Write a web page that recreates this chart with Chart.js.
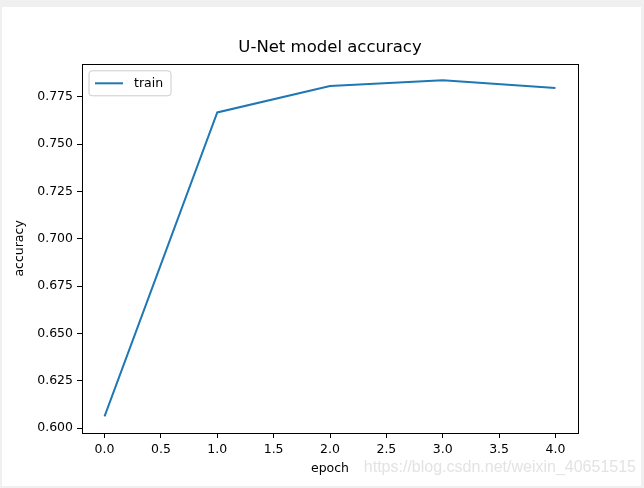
<!DOCTYPE html>
<html lang="en">
<head>
    <meta charset="UTF-8">
    <title>U-Net model accuracy</title>
    <script src="https://cdn.jsdelivr.net/npm/chart.js"></script>
    <style>
        body {
            margin: 0;
            background: #f0f0f0;
            width: 644px;
            height: 488px;
            overflow: hidden;
            position: relative;
        }

        #sheet {
            position: absolute;
            left: 2px;
            top: 7px;
            width: 639px;
            height: 479px;
            background: #ffffff;
        }

        #chart {
            position: absolute;
            left: 0;
            top: 0;
        }

        #mark {
            position: absolute;
            right: 8px;
            top: 458px;
            font-family: "Liberation Sans", Arial, sans-serif;
            font-size: 16px;
            color: #e3e3e3;
        }
    </style>
</head>
<body>
    <div id="sheet"></div>
    <canvas id="chart" width="644" height="488"></canvas>
    <div id="mark">https://blog.csdn.net/weixin_40651515</div>

    <script>
        const epochs = [0, 1, 2, 3, 4];
        const trainAcc = [0.6062, 0.7668, 0.7808, 0.7838, 0.7797];
        const xTicks = [0, 0.5, 1, 1.5, 2, 2.5, 3, 3.5, 4];
        const yTicks = [0.600, 0.625, 0.650, 0.675, 0.700, 0.725, 0.750, 0.775];

        const font = "DejaVu Sans";

        // matplotlib draws a full box round the axes and a framed legend inside it
        const framePlugin = {
            id: 'frame',
            afterDraw(chart) {
                const ctx = chart.ctx;
                const a = chart.chartArea;
                ctx.save();
                ctx.strokeStyle = '#000';
                ctx.lineWidth = 1;
                ctx.strokeRect(Math.round(a.left) + 0.5, Math.round(a.top) + 0.5,
                    Math.round(a.right - a.left), Math.round(a.bottom - a.top));

                // legend
                const x = a.left + 7, y = a.top + 7, w = 82, h = 25, r = 3;
                ctx.beginPath();
                ctx.moveTo(x + r, y);
                ctx.arcTo(x + w, y, x + w, y + h, r);
                ctx.arcTo(x + w, y + h, x, y + h, r);
                ctx.arcTo(x, y + h, x, y, r);
                ctx.arcTo(x, y, x + w, y, r);
                ctx.closePath();
                ctx.fillStyle = 'rgba(255,255,255,0.8)';
                ctx.fill();
                ctx.strokeStyle = '#cccccc';
                ctx.stroke();

                const ds = chart.data.datasets[0];
                ctx.beginPath();
                ctx.moveTo(x + 6, y + h / 2);
                ctx.lineTo(x + 34, y + h / 2);
                ctx.strokeStyle = ds.borderColor;
                ctx.lineWidth = ds.borderWidth;
                ctx.stroke();
                ctx.fillStyle = '#000';
                ctx.font = '12.5px "' + font + '"';
                ctx.textBaseline = 'middle';
                ctx.fillText(ds.label, x + 45, y + h / 2);
                ctx.restore();
            }
        };

        new Chart(document.getElementById('chart'), {
            type: 'line',
            data: {
                datasets: [{
                    label: 'train',
                    data: epochs.map((e, i) => ({ x: e, y: trainAcc[i] })),
                    borderColor: '#1f77b4',
                    borderWidth: 2,
                    pointRadius: 0,
                    tension: 0,
                    fill: false
                }]
            },
            options: {
                responsive: false,
                animation: false,
                layout: { padding: { left: 0, top: 0, right: 66, bottom: 0 } },
                plugins: {
                    legend: { display: false },
                    tooltip: { enabled: false },
                    title: {
                        display: true,
                        fullSize: false,
                        text: 'U-Net model accuracy',
                        color: '#000',
                        font: { family: font, size: 16.5, weight: 'normal' },
                        padding: { top: 38, bottom: 6 }
                    }
                },
                scales: {
                    x: {
                        type: 'linear',
                        min: -0.2,
                        max: 4.2,
                        afterBuildTicks: s => { s.ticks = xTicks.map(v => ({ value: v })); },
                        afterFit: s => { s.height = 55; },
                        ticks: {
                            color: '#000',
                            font: { family: font, size: 12.5 },
                            padding: 4,
                            maxRotation: 0,
                            callback: v => v.toFixed(1)
                        },
                        grid: { drawOnChartArea: false, drawTicks: true, tickLength: 5, tickColor: '#000' },
                        border: { display: false },
                        title: {
                            display: true,
                            text: 'epoch',
                            color: '#000',
                            font: { family: font, size: 12.5 },
                            padding: { top: 0, bottom: 12 }
                        }
                    },
                    y: {
                        type: 'linear',
                        min: 0.5974,
                        max: 0.7925,
                        afterBuildTicks: s => { s.ticks = yTicks.map(v => ({ value: v })); },
                        afterFit: s => { s.width = 82; },
                        ticks: {
                            color: '#000',
                            font: { family: font, size: 12.5 },
                            padding: 4,
                            callback: v => v.toFixed(3)
                        },
                        grid: { drawOnChartArea: false, drawTicks: true, tickLength: 5, tickColor: '#000' },
                        border: { display: false },
                        title: {
                            display: true,
                            text: 'accuracy',
                            color: '#000',
                            font: { family: font, size: 12.5 },
                            padding: { top: 12, bottom: 0 }
                        }
                    }
                }
            },
            plugins: [framePlugin]
        });
    </script>
</body>
</html>
